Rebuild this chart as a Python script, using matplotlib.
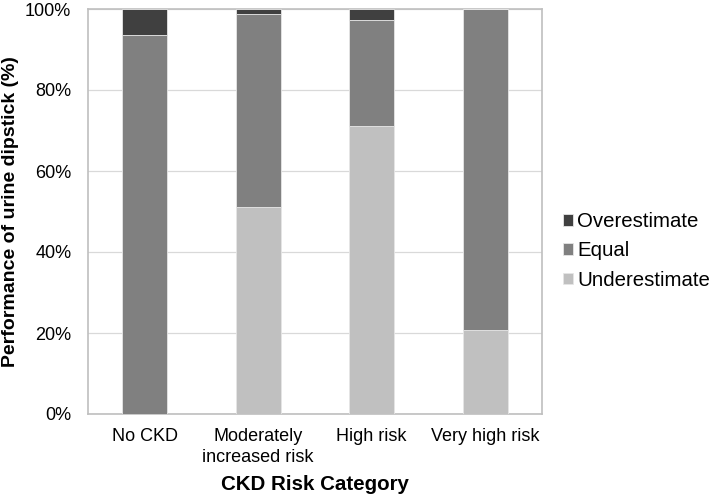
import numpy as np
import matplotlib.pyplot as plt
from matplotlib.ticker import PercentFormatter

plt.rcParams['font.family'] = ['Liberation Sans', 'DejaVu Sans']

# categorias e valores (%)
categorias = ['No CKD', 'Moderately\nincreased risk', 'High risk', 'Very high risk']
underestimate = [0.0, 51.0, 71.0, 20.8]
equal = [93.6, 47.8, 26.4, 79.2]
overestimate = [6.4, 1.2, 2.6, 0.0]

cores = {'Overestimate': '#404040', 'Equal': '#808080', 'Underestimate': '#c0c0c0'}

fig = plt.figure(figsize=(7.14, 4.97), dpi=100)
ax = fig.add_axes([88 / 714, 83 / 497, 454 / 714, 405 / 497])

x = np.arange(len(categorias))
larg = 0.40
b_under = ax.bar(x, underestimate, larg, color=cores['Underestimate'], edgecolor='#e6e6e6', linewidth=0.6, label='Underestimate', zorder=3)
base = np.array(underestimate)
b_equal = ax.bar(x, equal, larg, bottom=base, color=cores['Equal'], edgecolor='#e6e6e6', linewidth=0.6, label='Equal', zorder=3)
base = base + np.array(equal)
b_over = ax.bar(x, overestimate, larg, bottom=base, color=cores['Overestimate'], edgecolor='#e6e6e6', linewidth=0.6, label='Overestimate', zorder=3)

ax.set_xlim(-0.5, len(categorias) - 0.5)
ax.set_ylim(0, 100)
ax.set_yticks(np.arange(0, 101, 20))
ax.yaxis.set_major_formatter(PercentFormatter(decimals=0))
ax.set_xticks(x)
ax.set_xticklabels(categorias, fontsize=13, linespacing=1.28)
ax.tick_params(axis='y', labelsize=13, length=0, pad=12)
ax.tick_params(axis='x', length=0, pad=10)
ax.grid(axis='y', color='#d9d9d9', linewidth=0.9, zorder=0)
for s in ax.spines.values():
    s.set_color('#bfbfbf')
    s.set_linewidth(1.2)

ax.set_xlabel('CKD Risk Category', fontsize=14.8, fontweight='bold', labelpad=7)
ax.set_ylabel('Performance of urine dipstick (%)', fontsize=14, fontweight='bold')
ax.yaxis.label.set_verticalalignment('center')
ax.yaxis.set_label_coords(-77 / 454, 0.5)

ax.legend(handles=[b_over, b_equal, b_under], loc='center left',
          bbox_to_anchor=(563 / 714, 1 - 251 / 497), bbox_transform=fig.transFigure,
          frameon=False, fontsize=14.7, borderpad=0, borderaxespad=0,
          handlelength=0.5, handleheight=0.5, handletextpad=0.2, labelspacing=0.5)

plt.savefig('out.png', dpi=100)
